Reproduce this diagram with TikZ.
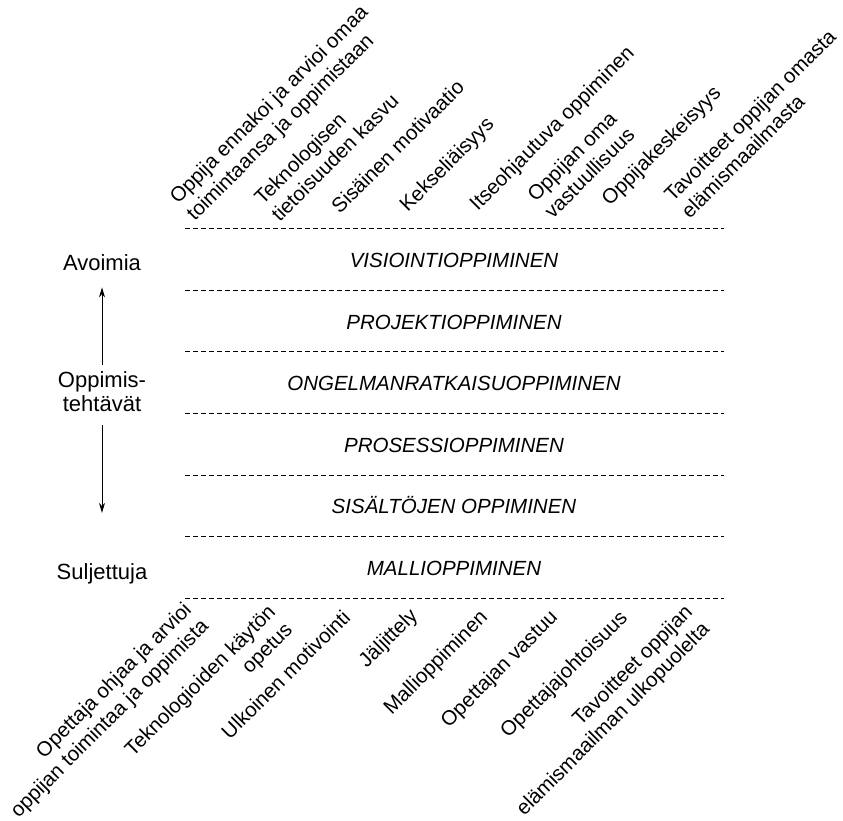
\documentclass[tikz,border=0pt]{standalone}
\usepackage{fontspec}
\setmainfont{Liberation Sans}
\usepackage{tikz}
\usetikzlibrary{arrows.meta}

\begin{document}
\begin{tikzpicture}[
    x=1pt, y=-1pt,
    every node/.style={font=\fontsize{20.5}{24}\selectfont, inner sep=0pt},
    row/.style={anchor=base, font=\fontsize{20.5}{24}\selectfont\itshape},
    toplab/.style={rotate=45, anchor=south west, align=left},
    botlab/.style={rotate=45, anchor=north east, align=right},
    side/.style={align=center, font=\fontsize{22}{24}\selectfont},
    sep/.style={dash pattern=on 5pt off 3pt, line width=0.8pt},
    arr/.style={-{Stealth[length=10pt, width=6pt]}, line width=0.9pt},
]
    \useasboundingbox (0,0) rectangle (843,821);

    % separators between the task levels
    \draw[sep] (185,228) -- (724,228);
    \draw[sep] (185,290) -- (724,290);
    \draw[sep] (185,351) -- (724,351);
    \draw[sep] (185,413) -- (724,413);
    \draw[sep] (185,475) -- (724,475);
    \draw[sep] (185,536) -- (724,536);
    \draw[sep] (185,598) -- (724,598);

    % learning levels
    \node[row] (visio) at (454,267) {VISIOINTIOPPIMINEN};
    \node[row] (projekti) at (454,329) {PROJEKTIOPPIMINEN};
    \node[row] (ongelma) at (454,390) {ONGELMANRATKAISUOPPIMINEN};
    \node[row] (prosessi) at (454,452) {PROSESSIOPPIMINEN};
    \node[row] (sisalto) at (454,513) {SISÄLTÖJEN OPPIMINEN};
    \node[row] (malli) at (454,575) {MALLIOPPIMINEN};

    % task scale
    \node[side, anchor=base] (avoimia) at (102,270) {Avoimia};
    \node[side] (tehtavat) at (102,392) {Oppimis-\\tehtävät};
    \node[side, anchor=base] (suljettuja) at (102,579) {Suljettuja};
    \draw[arr, shorten <=7pt, shorten >=17pt] (tehtavat) -- (avoimia);
    \draw[arr, shorten <=13pt, shorten >=50pt] (tehtavat) -- (suljettuja);

    % open end
    \node[toplab] (arvioi) at (198,225) {Oppija ennakoi ja arvioi omaa\\toimintaansa ja oppimistaan};
    \node[toplab] (tekno) at (280,223) {Teknologisen\\tietoisuuden kasvu};
    \node[toplab] (sisainen) at (340,215) {Sisäinen motivaatio};
    \node[toplab] (keksel) at (411,216) {Kekseliäisyys};
    \node[toplab] (itseohj) at (481,215) {Itseohjautuva oppiminen};
    \node[toplab] (vastuu) at (553,220) {Oppijan oma\\vastuullisuus};
    \node[toplab] (keskeis) at (613,210) {Oppijakeskeisyys};
    \node[toplab] (omasta) at (690,220) {Tavoitteet oppijan omasta\\elämismaailmasta};

    % closed end
    \node[botlab] (ohjaa) at (182,600) {Opettaja ohjaa ja arvioi\\oppijan toimintaa ja oppimista};
    \node[botlab] (kaytto) at (266,603) {Teknologioiden käytön\\opetus};
    \node[botlab] (ulkoinen) at (341,608) {Ulkoinen motivointi};
    \node[botlab] (jalj) at (408,606) {Jäljittely};
    \node[botlab] (mallio) at (478,608) {Mallioppiminen};
    \node[botlab] (opvastuu) at (548,608) {Opettajan vastuu};
    \node[botlab] (johtois) at (618,608) {Opettajajohtoisuus};
    \node[botlab] (ulkopuol) at (683,603) {Tavoitteet oppijan\\elämismaailman ulkopuolelta};
\end{tikzpicture}
\end{document}
